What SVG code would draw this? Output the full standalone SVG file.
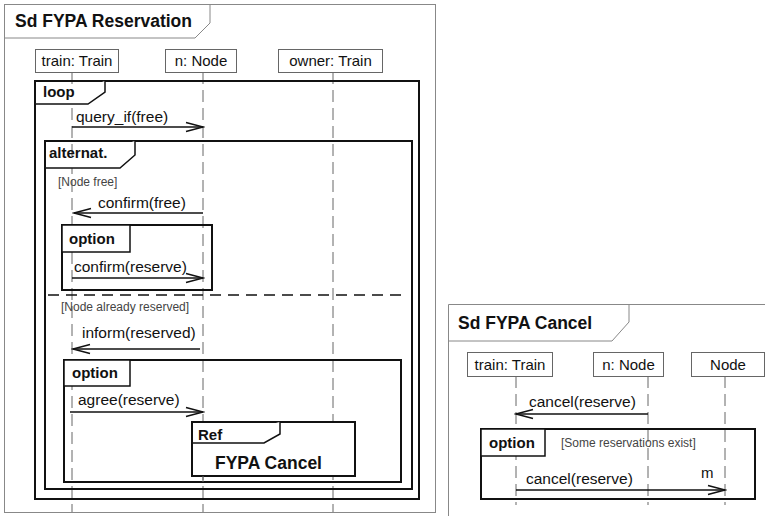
<svg xmlns="http://www.w3.org/2000/svg" width="765" height="516" viewBox="0 0 765 516">
<defs>
<style>
text{font-family:"Liberation Sans",Arial,sans-serif;fill:#111}
.title{font-size:17.5px;font-weight:bold}
.kw{font-size:15px;font-weight:bold}
.lbl{font-size:15.5px}
.head{font-size:15px}
.guard{font-size:12px;fill:#444}
.outer{fill:#fff;stroke:#888;stroke-width:1}
.headbox{fill:#fff;stroke:#666;stroke-width:1}
.frag{fill:none;stroke:#111;stroke-width:2}
.tab{fill:#fff;stroke:#111;stroke-width:1.5}
.life{stroke:#666;stroke-width:1;stroke-dasharray:12 6;fill:none}
.msg{stroke:#111;stroke-width:1.5;fill:none}
.sep{stroke:#111;stroke-width:1.5;stroke-dasharray:11 7;fill:none}
</style>
<marker id="open" markerWidth="20" markerHeight="12" refX="18" refY="6" orient="auto" markerUnits="userSpaceOnUse">
<path d="M1,1.5 L18,6 L1,10.5" fill="none" stroke="#111" stroke-width="1.5"/>
</marker>
</defs>

<!-- Left diagram frame -->
<g id="frame-reservation">
<rect class="outer" x="4.5" y="4.5" width="431" height="508"/>
<path d="M4.5,38 H195 L210,23 V4.5" fill="none" stroke="#888" stroke-width="1"/>
<text class="title" x="15" y="27">Sd FYPA Reservation</text>
</g>

<!-- Right diagram frame -->
<g id="frame-cancel">
<path d="M448.5,520 V304.5 H770" fill="none" stroke="#888" stroke-width="1"/>
<path d="M448.5,341 H612 L629,322 V304.5" fill="none" stroke="#888" stroke-width="1"/>
<text class="title" x="458" y="329">Sd FYPA Cancel</text>
</g>

<!-- Lifelines -->
<g id="lifelines">
<path class="life" d="M72,72 V512"/>
<path class="life" d="M203,72 V512"/>
<path class="life" d="M333,72 V512"/>
<path class="life" d="M516,376 V505"/>
<path class="life" d="M648,376 V505"/>
<path class="life" d="M725,376 V505"/>
</g>

<!-- Lifeline heads -->
<g id="lh-train">
<rect class="headbox" x="35.5" y="49.5" width="83" height="23"/>
<text class="head" x="77" y="66" text-anchor="middle">train: Train</text>
</g>
<g id="lh-node">
<rect class="headbox" x="165.5" y="49.5" width="71" height="23"/>
<text class="head" x="201" y="66" text-anchor="middle">n: Node</text>
</g>
<g id="lh-owner">
<rect class="headbox" x="278.5" y="49.5" width="104" height="23"/>
<text class="head" x="330.5" y="66" text-anchor="middle">owner: Train</text>
</g>
<g id="lh-train2">
<rect class="headbox" x="467.5" y="352.5" width="85" height="24"/>
<text class="head" x="510" y="370" text-anchor="middle">train: Train</text>
</g>
<g id="lh-node2">
<rect class="headbox" x="593.5" y="352.5" width="70" height="24"/>
<text class="head" x="628.5" y="370" text-anchor="middle">n: Node</text>
</g>
<g id="lh-node3">
<rect class="headbox" x="691.5" y="352.5" width="73" height="24"/>
<text class="head" x="728" y="370" text-anchor="middle">Node</text>
</g>

<!-- Combined fragments -->
<g id="frag-loop">
<rect class="frag" x="35" y="81" width="384" height="418"/>
<path class="tab" d="M35,104 H88 L105,92 V81"/>
<text class="kw" x="43" y="97">loop</text>
</g>
<g id="frag-alt">
<rect class="frag" x="45" y="141" width="367" height="348"/>
<path class="tab" d="M45,168 H120 L135,155 V141"/>
<text class="kw" x="49" y="158">alternat.</text>
<text class="guard" x="58" y="186">[Node free]</text>
<path class="sep" d="M48,295 H408"/>
<text class="guard" x="61" y="311">[Node already reserved]</text>
</g>
<g id="frag-opt1">
<rect class="frag" x="62" y="225" width="150" height="65"/>
<rect class="tab" x="62" y="225" width="68" height="27"/>
<text class="kw" x="69" y="244">option</text>
</g>
<g id="frag-opt2">
<rect class="frag" x="64" y="360" width="337" height="122"/>
<rect class="tab" x="64" y="360" width="66" height="26"/>
<text class="kw" x="72" y="378">option</text>
</g>
<g id="frag-ref">
<rect x="192" y="422" width="163" height="54" fill="#fff" stroke="#111" stroke-width="2"/>
<path class="tab" d="M192,443 H264 L280,434 V422"/>
<text class="kw" x="198" y="440">Ref</text>
<text class="title" x="215" y="469">FYPA Cancel</text>
</g>
<path d="M203,476 V482" stroke="#666" stroke-width="1"/>
<g id="frag-opt3">
<rect class="frag" x="481" y="429" width="274" height="70"/>
<rect class="tab" x="481" y="429" width="64" height="27"/>
<text class="kw" x="489" y="448">option</text>
<text class="guard" x="561" y="447">[Some reservations exist]</text>
</g>

<!-- Messages -->
<g id="connectors">
<path class="msg" d="M72,127 H203" marker-end="url(#open)"/>
<text class="lbl" x="76" y="122">query_if(free)</text>
<path class="msg" d="M203,213 H74" marker-end="url(#open)"/>
<text class="lbl" x="98" y="208">confirm(free)</text>
<path class="msg" d="M72,278 H203" marker-end="url(#open)"/>
<text class="lbl" x="74" y="272">confirm(reserve)</text>
<path class="msg" d="M200,349 H73" marker-end="url(#open)"/>
<text class="lbl" x="82" y="338">inform(reserved)</text>
<path class="msg" d="M70,412 H203" marker-end="url(#open)"/>
<text class="lbl" x="78" y="405">agree(reserve)</text>
<path class="msg" d="M648,414 H516" marker-end="url(#open)"/>
<text class="lbl" x="529" y="407">cancel(reserve)</text>
<path class="msg" d="M516,490 H725" marker-end="url(#open)"/>
<text class="lbl" x="526" y="484">cancel(reserve)</text>
<text class="head" x="701" y="478">m</text>
</g>
</svg>
